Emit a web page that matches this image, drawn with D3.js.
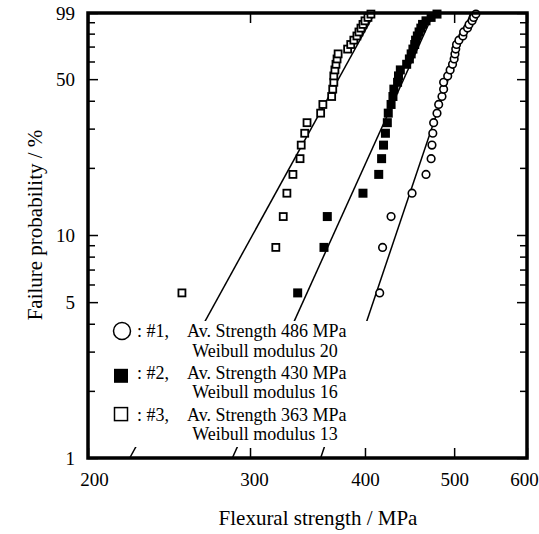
<!DOCTYPE html>
<meta charset="utf-8">
<style>
body { margin: 0; background: #fff; }
svg { font-family: "Liberation Serif", "Times New Roman", serif; }
.tick line { stroke: #000; stroke-width: 1.5; }
</style>
<svg width="539" height="534"></svg>
<script src="https://cdn.jsdelivr.net/npm/d3@7/dist/d3.min.js"></script>
<script>
// failure probability (%) of each ranked specimen
var probs = [5.5, 8.8, 12.1, 15.4, 18.7, 22.0, 25.3, 28.6, 31.9, 35.2, 38.5, 41.8, 45.1, 48.4, 51.7,
  55.0, 58.3, 61.6, 64.9, 68.2, 71.5, 74.8, 78.1, 81.4, 84.7, 88.0, 91.3, 94.6, 97.9]

// flexural strength (MPa) per sample
var strength1 = [415, 418, 427, 450, 466, 472, 473, 474, 475, 479, 481, 485, 487, 487, 492,
  495, 498, 500, 501, 502, 503, 506, 511, 512, 517, 519, 523, 525, 528]
var strength2 = [338, 361, 364, 398, 414, 417, 419, 421, 423, 424, 427, 429, 430, 434, 435,
  437, 444, 447, 449, 451, 453, 454, 456, 458, 460, 462, 466, 472, 479]
var strength3 = [253, 320, 326, 329, 334, 340, 341, 344, 346, 358, 360, 368, 369, 370, 370,
  371, 372, 373, 374, 383, 386, 389, 392, 394, 396, 398, 400, 403, 406]

// fitted lines: [strength, probability] end points
var fit1 = [[358, 1], [521, 99]]
var fit2 = [[287, 1], [475, 99]]
var fit3 = [[222, 1], [410, 99]]

var xTicks = [200, 300, 400, 500, 600]
var yTicks = [1, 5, 10, 50, 99]
var yMinor = [2, 3, 4, 6, 7, 8, 9, 20, 30, 40, 60, 70, 80, 90]

var legendRows = [
  { mark: 'circle', id: ': #1,', line1: 'Av. Strength 486 MPa', line2: 'Weibull modulus 20' },
  { mark: 'filled', id: ': #2,', line1: 'Av. Strength 430 MPa', line2: 'Weibull modulus 16' },
  { mark: 'open', id: ': #3,', line1: 'Av. Strength 363 MPa', line2: 'Weibull modulus 13' }
]

const pLeft = 88, pRight = 527, pTop = 13, pBottom = 458
const svg = d3.select('svg')

const x = d3.scaleLog().domain([200, 600]).range([pLeft, pRight])
const y = d3.scaleLog().domain([1, 99]).range([pBottom, pTop])

svg.append('defs').append('clipPath').attr('id', 'plot')
  .append('rect')
  .attr('x', pLeft).attr('y', pTop)
  .attr('width', pRight - pLeft).attr('height', pBottom - pTop)

function plain(g) {
  g.attr('font-family', null).attr('font-size', null)
  g.select('.domain').remove()
}

// axes (ticks pointing inward)
svg.append('g')
  .attr('transform', 'translate(0,' + pBottom + ')')
  .call(d3.axisBottom(x).tickValues(xTicks).tickFormat(d3.format('d'))
    .tickSizeInner(-10).tickSizeOuter(0).tickPadding(15))
  .call(plain)
  .call(g => g.selectAll('text').attr('font-size', 19).attr('fill', '#000')
    .attr('dx', d => d === 200 ? 6 : d === 300 ? 4 : d === 600 ? -3 : 0))

svg.append('g')
  .attr('transform', 'translate(0,' + pTop + ')')
  .call(d3.axisTop(x).tickValues(xTicks).tickFormat('')
    .tickSizeInner(-10).tickSizeOuter(0))
  .call(plain)

svg.append('g')
  .attr('transform', 'translate(' + pLeft + ',0)')
  .call(d3.axisLeft(y).tickValues(yTicks).tickFormat(d3.format('d'))
    .tickSizeInner(-10).tickSizeOuter(0).tickPadding(13))
  .call(plain)
  .call(g => g.selectAll('text').attr('font-size', 19).attr('fill', '#000'))

svg.append('g')
  .attr('transform', 'translate(' + pLeft + ',0)')
  .call(d3.axisLeft(y).tickValues(yMinor).tickFormat('')
    .tickSizeInner(-7).tickSizeOuter(0))
  .call(plain)

svg.append('g')
  .attr('transform', 'translate(' + pRight + ',0)')
  .call(d3.axisRight(y).tickValues(yTicks).tickFormat('')
    .tickSizeInner(-10).tickSizeOuter(0))
  .call(plain)

svg.append('g')
  .attr('transform', 'translate(' + pRight + ',0)')
  .call(d3.axisRight(y).tickValues(yMinor).tickFormat('')
    .tickSizeInner(-7).tickSizeOuter(0))
  .call(plain)

// fitted lines
var line = d3.line().x(d => x(d[0])).y(d => y(d[1]))
svg.append('g')
  .attr('clip-path', 'url(#plot)')
  .selectAll('path')
  .data([fit1, fit2, fit3])
  .enter().append('path')
  .attr('d', line)
  .attr('fill', 'none')
  .attr('stroke', '#000')
  .attr('stroke-width', 1.5)

// data points
svg.append('g')
  .selectAll('circle')
  .data(strength1)
  .enter().append('circle')
  .attr('cx', d => x(d))
  .attr('cy', (d, i) => y(probs[i]))
  .attr('r', 3.8)
  .attr('fill', '#fff')
  .attr('stroke', '#000')
  .attr('stroke-width', 1.6)

svg.append('g')
  .selectAll('rect')
  .data(strength2)
  .enter().append('rect')
  .attr('x', d => x(d) - 4.5)
  .attr('y', (d, i) => y(probs[i]) - 4.5)
  .attr('width', 9)
  .attr('height', 9)
  .attr('fill', '#000')

svg.append('g')
  .selectAll('rect')
  .data(strength3)
  .enter().append('rect')
  .attr('x', d => x(d) - 3.5)
  .attr('y', (d, i) => y(probs[i]) - 3.5)
  .attr('width', 7)
  .attr('height', 7)
  .attr('fill', '#fff')
  .attr('stroke', '#000')
  .attr('stroke-width', 1.8)

// legend
svg.append('rect')
  .attr('x', 100).attr('y', 321)
  .attr('width', 274).attr('height', 126)
  .attr('fill', '#fff')

var legend = svg.append('g')
  .selectAll('g')
  .data(legendRows)
  .enter().append('g')
  .attr('transform', (d, i) => 'translate(0,' + (337 + i * 41.8) + ')')

legend.filter(d => d.mark === 'circle').append('circle')
  .attr('cx', 122).attr('cy', -6).attr('r', 8.5)
  .attr('fill', '#fff').attr('stroke', '#000').attr('stroke-width', 1.5)

legend.filter(d => d.mark === 'filled').append('rect')
  .attr('x', 114).attr('y', -10).attr('width', 14).attr('height', 14)
  .attr('fill', '#000')

legend.filter(d => d.mark === 'open').append('rect')
  .attr('x', 114.5).attr('y', -13).attr('width', 13).attr('height', 13)
  .attr('fill', '#fff').attr('stroke', '#000').attr('stroke-width', 1.5)

legend.append('text')
  .attr('x', 137).attr('font-size', 18)
  .text(d => d.id)

legend.append('text')
  .attr('x', 187).attr('font-size', 18)
  .text(d => d.line1)

legend.append('text')
  .attr('x', 265).attr('y', 19.5).attr('font-size', 18)
  .attr('text-anchor', 'middle')
  .text(d => d.line2)

// frame
svg.append('rect')
  .attr('x', pLeft).attr('y', pTop)
  .attr('width', pRight - pLeft).attr('height', pBottom - pTop)
  .attr('fill', 'none')
  .attr('stroke', '#000')
  .attr('stroke-width', 3.5)

// axis titles
svg.append('text')
  .attr('x', 318).attr('y', 525)
  .attr('text-anchor', 'middle')
  .attr('font-size', 21)
  .text('Flexural strength / MPa')

svg.append('text')
  .attr('transform', 'translate(42,225) rotate(-90)')
  .attr('text-anchor', 'middle')
  .attr('font-size', 21)
  .text('Failure probability / %')
</script>
